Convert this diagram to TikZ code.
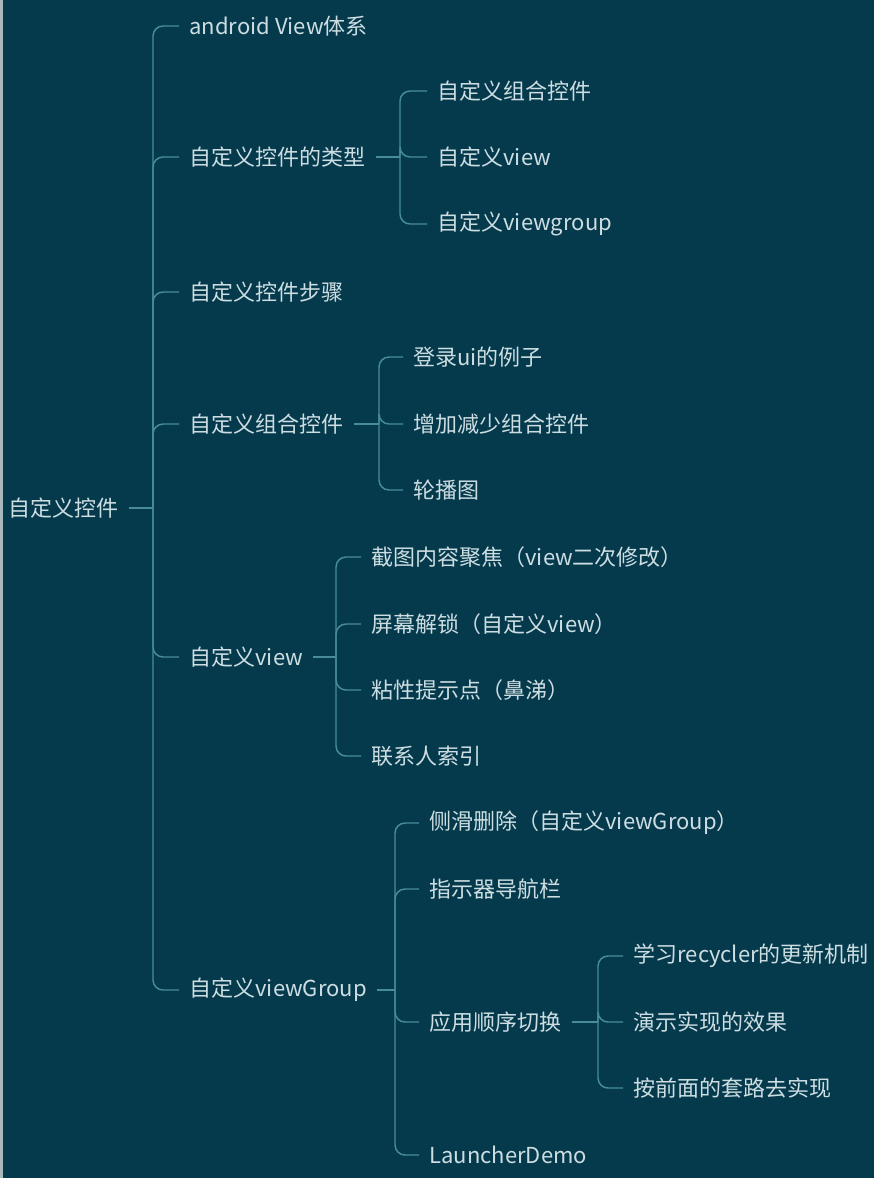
\documentclass[tikz,border=0pt]{standalone}
\usepackage{fontspec}
\setmainfont{Noto Sans CJK SC}
\definecolor{bgteal}{RGB}{5,58,77}
\definecolor{txtgrey}{RGB}{205,222,226}
\definecolor{lineteal}{RGB}{72,140,152}
\definecolor{edgegrey}{RGB}{170,185,190}
\tikzset{
	topic/.style={anchor=west, inner xsep=7.5pt, inner ysep=2pt, text=txtgrey, font=\fontsize{16.5}{20}\selectfont},
	link/.style={draw=lineteal, line width=1.1pt, rounded corners=7.5pt}}
\tikzset{every picture/.style={line width=0.75pt}}

\begin{document}
\begin{tikzpicture}[x=0.75pt,y=0.75pt,yscale=-1,xscale=1]
	%Background
	\useasboundingbox (0,0) rectangle (874,1178);
	\fill [bgteal] (0,0) rectangle (874,1178);
	\fill [edgegrey] (0,0) rectangle (3,1178);

	% Text Node
	\node [topic] (root) at (-2,508) {自定义控件};
	% Text Node
	\node [topic] (sys) at (179,26) {android View体系};
	% Text Node
	\node [topic] (kind) at (179,157) {自定义控件的类型};
	% Text Node
	\node [topic] (steps) at (179,292) {自定义控件步骤};
	% Text Node
	\node [topic] (combo) at (179,424) {自定义组合控件};
	% Text Node
	\node [topic] (cview) at (179,657) {自定义view};
	% Text Node
	\node [topic] (cgroup) at (179,990) {自定义viewGroup};

	% Text Node
	\node [topic] (kindA) at (427,91) {自定义组合控件};
	% Text Node
	\node [topic] (kindB) at (427,157) {自定义view};
	% Text Node
	\node [topic] (kindC) at (427,224) {自定义viewgroup};

	% Text Node
	\node [topic] (comboA) at (403,357) {登录ui的例子};
	% Text Node
	\node [topic] (comboB) at (403,424) {增加减少组合控件};
	% Text Node
	\node [topic] (comboC) at (403,490) {轮播图};

	% Text Node
	\node [topic] (viewA) at (361,557) {截图内容聚焦（view二次修改）};
	% Text Node
	\node [topic] (viewB) at (361,624) {屏幕解锁（自定义view）};
	% Text Node
	\node [topic] (viewC) at (361,690) {粘性提示点（鼻涕）};
	% Text Node
	\node [topic] (viewD) at (361,756) {联系人索引};

	% Text Node
	\node [topic] (groupA) at (419,823) {侧滑删除（自定义viewGroup）};
	% Text Node
	\node [topic] (groupB) at (419,889) {指示器导航栏};
	% Text Node
	\node [topic] (groupC) at (419,1022) {应用顺序切换};
	% Text Node
	\node [topic] (groupD) at (419,1155) {LauncherDemo};

	% Text Node
	\node [topic] (swapA) at (623,956) {学习recycler的更新机制};
	% Text Node
	\node [topic] (swapB) at (623,1022) {演示实现的效果};
	% Text Node
	\node [topic] (swapC) at (623,1088) {按前面的套路去实现};

	%Branch Points
	\coordinate (rootT) at (153,508);
	\coordinate (kindT) at (400,157);
	\coordinate (comboT) at (379,424);
	\coordinate (cviewT) at (336,657);
	\coordinate (cgroupT) at (395,990);
	\coordinate (swapT) at (598,1022);

	%Straight Lines
	\draw [link] (root.east) -- (rootT);
	\foreach \k in {sys,kind,steps,combo,cview,cgroup}
		\draw [link] (rootT) |- (\k.west);
	%Straight Lines
	\draw [link] (kind.east) -- (kindT);
	\foreach \k in {kindA,kindB,kindC}
		\draw [link] (kindT) |- (\k.west);
	%Straight Lines
	\draw [link] (combo.east) -- (comboT);
	\foreach \k in {comboA,comboB,comboC}
		\draw [link] (comboT) |- (\k.west);
	%Straight Lines
	\draw [link] (cview.east) -- (cviewT);
	\foreach \k in {viewA,viewB,viewC,viewD}
		\draw [link] (cviewT) |- (\k.west);
	%Straight Lines
	\draw [link] (cgroup.east) -- (cgroupT);
	\foreach \k in {groupA,groupB,groupC,groupD}
		\draw [link] (cgroupT) |- (\k.west);
	%Straight Lines
	\draw [link] (groupC.east) -- (swapT);
	\foreach \k in {swapA,swapB,swapC}
		\draw [link] (swapT) |- (\k.west);

\end{tikzpicture}
\end{document}
